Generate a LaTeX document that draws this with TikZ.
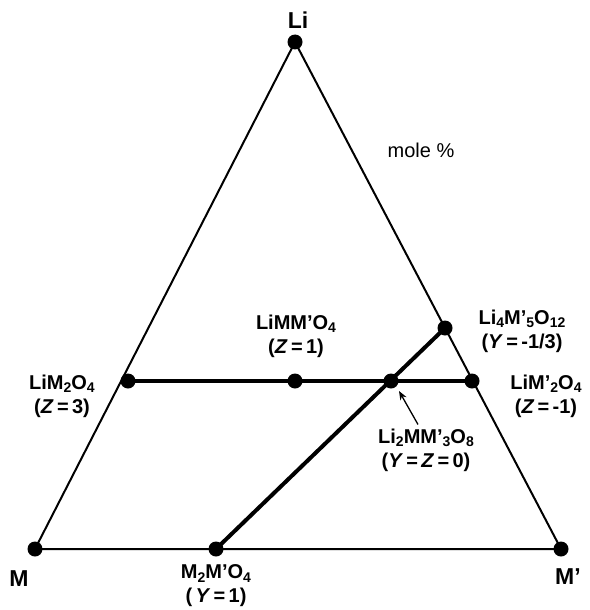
\documentclass[tikz,border=0pt]{standalone}
\usepackage{fontspec}
\setmainfont{Liberation Sans}
\usepackage{tikz}
\usetikzlibrary{arrows.meta}
\newcommand{\lo}[1]{\raisebox{-0.35ex}{\fontsize{14}{14}\selectfont #1}}
\tikzset{
  dot/.style={circle,fill=black,inner sep=0pt,minimum size=15pt},
  edge/.style={line width=2pt},
  tie/.style={line width=4pt},
  lbl/.style={font=\bfseries\fontsize{20}{24}\selectfont,align=center,inner sep=0pt},
  corner/.style={font=\bfseries\fontsize{23}{24}\selectfont,inner sep=0pt}
}

\begin{document}
\begin{tikzpicture}[x=1pt,y=-1pt]
    \useasboundingbox (0,0) rectangle (589,610);
    % corners and compositions
    \node[dot] (li) at (295,42) {};
    \node[dot] (m) at (35,549) {};
    \node[dot] (mp) at (561,549) {};
    \node[dot] (lim2o4) at (128,381) {};
    \node[dot] (limmpo4) at (295,381) {};
    \node[dot] (li2mmp3o8) at (391,381) {};
    \node[dot] (limp2o4) at (472,381) {};
    \node[dot] (li4mp5o12) at (445,328) {};
    \node[dot] (m2mpo4) at (216,549) {};
    % triangle
    \draw[edge] (m.center) -- (mp.center) -- (li.center) -- cycle;
    % tie lines
    \draw[tie] (lim2o4.center) -- (limp2o4.center);
    \draw[tie] (m2mpo4.center) -- (li4mp5o12.center);
    % labels
    \node[corner] (tli) at (298,20) {Li};
    \node[corner] (tm) at (19,579) {M};
    \node[corner] (tmp) at (568,577) {M’};
    \node[font=\fontsize{20}{24}\selectfont,inner sep=0pt] (tmole) at (421,150) {mole \%};
    \node[lbl] (tlim2o4) at (62,396) {LiM\lo{2}O\lo{4}\\(\textit{Z}\,=\,3)};
    \node[lbl] (tlimmpo4) at (296,336) {LiMM’O\lo{4}\\(\textit{Z}\,=\,1)};
    \node[lbl] (tli4mp5o12) at (522,331) {Li\lo{4}M’\lo{5}O\lo{12}\\(\textit{Y}\,=\,-1/3)};
    \node[lbl] (tlimp2o4) at (546,396) {LiM’\lo{2}O\lo{4}\\(\textit{Z}\,=\,-1)};
    \node[lbl] (tli2mmp3o8) at (426,450) {Li\lo{2}MM’\lo{3}O\lo{8}\\(\textit{Y}\,=\,\textit{Z}\,=\,0)};
    \node[lbl] (tm2mpo4) at (216,586) {M\lo{2}M’O\lo{4}\\(\,\textit{Y}\,=\,1)};
    % pointer
    \coordinate (tip) at (399,391);
    \draw[line width=1.3pt,-{Stealth[length=9pt,width=7pt]}] (tli2mmp3o8.north) ++(-8,-4) -- (tip);
\end{tikzpicture}
\end{document}
